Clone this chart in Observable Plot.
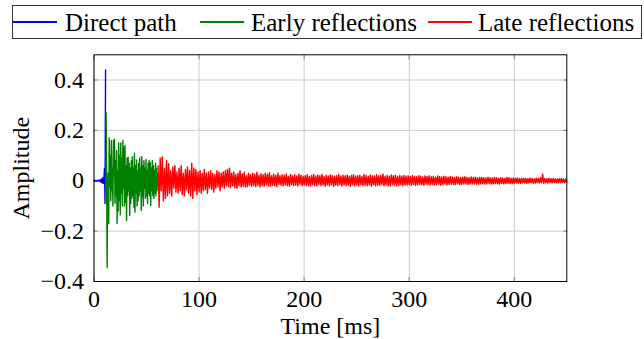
<!DOCTYPE html>
<html><head><meta charset="utf-8">
<script src="https://cdn.jsdelivr.net/npm/d3@7"></script>
<script src="https://cdn.jsdelivr.net/npm/@observablehq/plot@0.6"></script>
<style>
html,body{margin:0;padding:0;background:#fff;width:644px;height:339px;overflow:hidden;}
#legend{position:relative;width:644px;height:45px;font-family:"Liberation Serif",serif;font-size:25px;color:#000;}
#legend .box{position:absolute;left:12px;top:5px;width:630px;height:34px;border:1px solid #333;box-sizing:border-box;}
#legend .sw{position:absolute;top:21px;height:2px;width:44px;}
#legend .lb{position:absolute;top:10px;line-height:1;white-space:nowrap;}
#chart{width:644px;height:294px;}
#chart svg, #chart svg text{font-family:"Liberation Serif",serif !important;}
</style></head>
<body>
<div id="legend"><div class="box"></div></div>
<div id="chart"></div>
<script>
// ---- data ----
const seriesNames = ["Direct path", "Early reflections", "Late reflections"];
const seriesColors = ["#0000ff", "#008000", "#ff0000"];

const xTicks = [0, 100, 200, 300, 400];
const yTicks = [-0.4, -0.2, 0, 0.2, 0.4];
const xLabel = "Time [ms]";
const yLabel = "Amplitude";

// sample times: start (ms) and spacing (ms) of each segment
const directStart = 0,   directStep = 0.5;
const earlyStart = 11.5, earlyStep = 0.5;
const lateStart = 61,    lateStep = 1;

const directValues = [0,.001,-.001,.001,0,-.001,.001,0,-.001,.002,-.001,.002,-.003,.005,-.006,.008,-.009,.012,-.01,.013,.05,-.09,.44];

const earlyValues = [
.27,.02,-.345,-.05,.03,-.17,.17,-.02,.1,-.08,
.16,-.04,.05,-.1,.16,.02,.165,-.09,.08,-.06,
.12,-.17,.04,-.12,.15,-.08,.1,-.135,.15,-.05,
.09,-.1,.16,-.03,.13,-.1,.14,-.085,.06,-.158,
.09,-.06,.093,-.04,.07,-.138,.05,-.09,.08,-.07,
.095,-.06,.05,-.105,.108,-.125,.06,-.05,.083,-.1,
.04,-.08,.07,-.06,.09,-.04,.05,-.118,.096,-.065,
.06,-.1,.08,-.03,.05,-.07,.085,-.06,.04,-.09,
.07,-.05,.08,-.06,.073,-.098,.05,-.04,.08,-.06,
.06,-.07,.04,-.05,.07,-.06,.05,-.04,.03];

const lateValues = [
.06,-.105,.09,-.04,.095,-.08,.05,-.07,.08,-.06,
.068,-.05,.04,-.06,.055,-.03,.06,-.045,.035,-.05,
.05,-.04,.06,-.055,.03,-.06,.045,-.035,.055,-.05,
.04,-.06,.07,-.07,.05,-.04,.045,-.055,.035,-.045,
.04,-.05,.03,-.04,.045,-.035,.03,-.05,.035,-.03,
.04,-.035,.03,-.045,.025,-.03,.04,-.025,.035,-.04,
.03,-.025,.035,-.03,.04,-.02,.045,-.025,.05,-.026,
.03,-.02,.035,-.028,.025,-.03,.03,-.02,.04,-.025,
.028,-.022,.034,-.025,.02,-.024,.03,-.018,.025,-.022,
.03,-.02,.026,-.024,.034,-.018,.022,-.025,.028,-.02,
.024,-.022,.03,-.016,.026,-.02,.032,-.022,.02,-.018,
.026,-.02,.022,-.024,.03,-.015,.02,-.018,.024,-.02,
.022,-.017,.027,-.02,.018,-.022,.025,-.016,.02,-.019,
.024,-.018,.02,-.021,.026,-.015,.022,-.02,.018,-.017,
.02,-.018,.024,-.02,.017,-.022,.021,-.016,.025,-.019,
.019,-.021,.023,-.015,.02,-.02,.026,-.018,.017,-.022,
.022,-.017,.019,-.02,.024,-.016,.02,-.023,.018,-.018,
.021,-.02,.025,-.016,.019,-.021,.022,-.017,.02,-.019,
.023,-.018,.018,-.022,.021,-.015,.024,-.02,.019,-.017,
.02,-.021,.022,-.016,.017,-.02,.025,-.018,.021,-.02,
.018,-.017,.023,-.022,.02,-.016,.019,-.02,.024,-.018,
.02,-.019,.022,-.016,.027,-.02,.018,-.017,.021,-.02,
.019,-.021,.023,-.015,.02,-.018,.022,-.02,.017,-.019,
.021,-.016,.018,-.02,.022,-.017,.019,-.018,.02,-.016,
.017,-.018,.021,-.015,.018,-.019,.016,-.017,.02,-.015,
.018,-.016,.015,-.018,.019,-.014,.017,-.016,.02,-.017,
.016,-.015,.018,-.017,.014,-.016,.019,-.014,.017,-.018,
.015,-.016,.018,-.013,.016,-.017,.014,-.015,.017,-.014,
.015,-.014,.013,-.016,.016,-.012,.014,-.015,.013,-.014,
.014,-.013,.016,-.012,.013,-.015,.012,-.013,.015,-.012,
.013,-.012,.014,-.013,.011,-.014,.013,-.012,.014,-.011,
.012,-.013,.011,-.012,.014,-.01,.012,-.013,.011,-.012,
.013,-.011,.012,-.012,.01,-.013,.012,-.01,.011,-.012,
.01,-.011,.013,-.01,.012,-.011,.01,-.012,.011,-.01,
.01,-.009,.011,-.01,.009,-.011,.01,-.008,.01,-.009,
.009,-.01,.008,-.009,.011,-.008,.009,-.01,.008,-.009,
.01,-.008,.009,-.009,.012,-.008,.027,-.01,.009,-.008,
.008,-.009,.01,-.007,.008,-.008,.009,-.007,.008,-.008,
.007,-.008,.008,-.007,.009,-.006,.007,-.008,.007,-.006];

// ---- build table ----
const segments = [
  {name: seriesNames[0], start: directStart, step: directStep, values: directValues},
  {name: seriesNames[1], start: earlyStart, step: earlyStep, values: earlyValues},
  {name: seriesNames[2], start: lateStart, step: lateStep, values: lateValues}
];
const rows = [];
for (const s of segments) s.values.forEach((v, i) => rows.push({series: s.name, t: s.start + i * s.step, v}));

// ---- legend ----
const legendLayout = [{line: 13, text: 65}, {line: 200, text: 251}, {line: 428, text: 478}];
const legend = document.getElementById("legend");
seriesNames.forEach((name, i) => {
  const sw = document.createElement("div");
  sw.className = "sw"; sw.style.left = legendLayout[i].line + "px"; sw.style.background = seriesColors[i];
  const lb = document.createElement("span");
  lb.className = "lb"; lb.style.left = legendLayout[i].text + "px"; lb.textContent = name;
  legend.appendChild(sw); legend.appendChild(lb);
});

// ---- chart ----
const fmtY = d => d === 0 ? "0" : (d < 0 ? "\u2212" : "") + Math.abs(d).toFixed(1);
const tickStyle = {tickSize: -4, fill: "none", stroke: "#808080", label: null};
const chart = Plot.plot({
  width: 644, height: 294,
  marginTop: 9.3, marginBottom: 58, marginLeft: 93.5, marginRight: 77.7,
  style: {fontFamily: "Liberation Serif, serif", fontSize: "24px", color: "black", background: "white", overflow: "visible"},
  x: {domain: [0, 450]},
  y: {domain: [-0.4, 0.5]},
  color: {domain: seriesNames, range: seriesColors},
  marks: [
    Plot.gridX(xTicks, {stroke: "#cccccc", strokeOpacity: 1}),
    Plot.gridY(yTicks, {stroke: "#cccccc", strokeOpacity: 1}),
    Plot.axisX(xTicks, {anchor: "bottom", ...tickStyle}),
    Plot.axisX(xTicks, {anchor: "top", ...tickStyle}),
    Plot.axisY(yTicks, {anchor: "left", ...tickStyle}),
    Plot.axisY(yTicks, {anchor: "right", ...tickStyle}),
    Plot.line(rows, {x: "t", y: "v", z: "series", stroke: "series", strokeWidth: 1.4}),
    Plot.axisX(xTicks, {anchor: "bottom", tickSize: 0, tickPadding: 8, tickFormat: d => String(d),
      label: xLabel, labelAnchor: "center", labelArrow: "none", labelOffset: 52}),
    Plot.axisY(yTicks, {anchor: "left", tickSize: 0, tickPadding: 10, tickFormat: fmtY,
      label: yLabel, labelAnchor: "center", labelArrow: "none", labelOffset: 82}),
    Plot.frame({stroke: "black", strokeWidth: 1})
  ]
});
document.getElementById("chart").appendChild(chart);
</script>
</body></html>
